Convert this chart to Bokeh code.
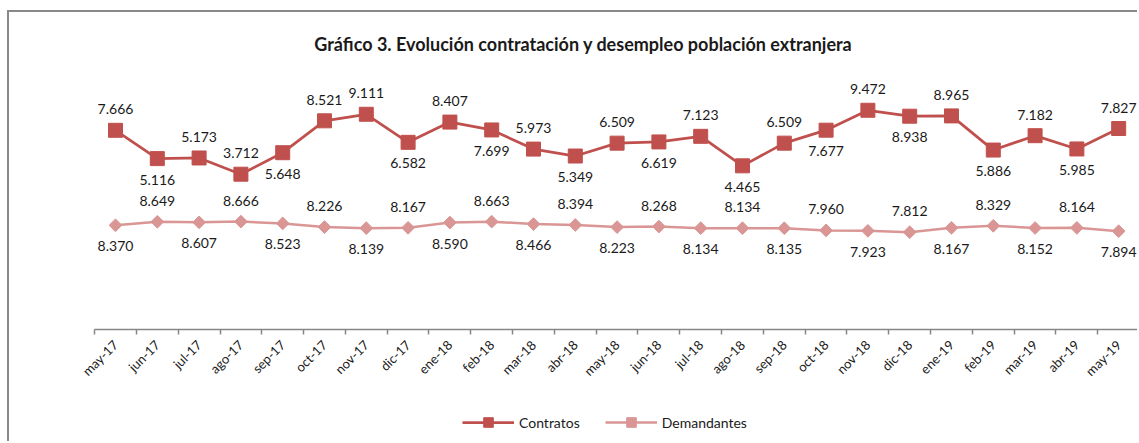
import math
from bokeh.plotting import figure
from bokeh.layouts import column
from bokeh.models import (Range1d, FixedTicker, Label, Legend, LegendItem,
                          ColumnDataSource)
from bokeh.embed import file_html
from bokeh.resources import INLINE
from bokeh.core.properties import value

# ---------------- data ----------------
months = ["may-17", "jun-17", "jul-17", "ago-17", "sep-17", "oct-17", "nov-17",
          "dic-17", "ene-18", "feb-18", "mar-18", "abr-18", "may-18", "jun-18",
          "jul-18", "ago-18", "sep-18", "oct-18", "nov-18", "dic-18", "ene-19",
          "feb-19", "mar-19", "abr-19", "may-19"]

contratos = [7666, 5116, 5173, 3712, 5648, 8521, 9111, 6582, 8407, 7699,
             5973, 5349, 6509, 6619, 7123, 4465, 6509, 7677, 9472, 8938,
             8965, 5886, 7182, 5985, 7827]

demandantes = [8370, 8649, 8607, 8666, 8523, 8226, 8139, 8167, 8590, 8663,
               8466, 8394, 8223, 8268, 8134, 8134, 8135, 7960, 7923, 7812,
               8167, 8329, 8152, 8164, 7894]

series_names = ["Contratos", "Demandantes"]

# label placement (style): "a" above, "b" below
contratos_side = ["a", "b", "a", "a", "b", "a", "a", "b", "a", "b", "a", "b",
                  "a", "b", "a", "b", "a", "b", "a", "b", "a", "b", "a", "b", "a"]
demandantes_side = ["b" if i % 2 == 0 else "a" for i in range(len(months))]

title_text = "Gráfico 3. Evolución contratación y desempleo población extranjera"

# ---------------- styling ----------------
FONT = "Lato"
C_RED = "#C0504D"
C_PINK = "#D99694"
AXIS_GREY = "#868686"
BORDER = "2px solid #898989"
TXT = "#1a1a1a"

W = 1130
H1, H2 = 385, 46
xs = list(range(len(months)))

def fmt(v):
    return f"{v / 1000:.3f}"

def offs(sides, d=21):
    return [-d if s == "a" else d for s in sides]

src_c = ColumnDataSource(dict(x=xs, y=contratos, t=[fmt(v) for v in contratos],
                              off=offs(contratos_side)))
src_d = ColumnDataSource(dict(x=xs, y=demandantes, t=[fmt(v) for v in demandantes],
                              off=offs(demandantes_side)))

# ---------------- main chart ----------------
p = figure(width=W, height=H1,
           x_range=Range1d(-2.536, 24.498),
           y_range=Range1d(-10280, 18280),
           output_backend="svg", toolbar_location=None,
           min_border_left=0, min_border_right=0, min_border_top=0,
           min_border_bottom=H1 - 317,
           background_fill_color="white", border_fill_color="white")
p.yaxis.visible = False
p.extra_y_ranges = {"dem": Range1d(0, 25460)}
p.outline_line_color = None
p.grid.visible = False
p.styles = {"border-left": BORDER, "border-top": BORDER,
            "margin-left": "7px", "margin-top": "10px"}

ax = p.xaxis[0]
ax.ticker = FixedTicker(ticks=xs, minor_ticks=[i - 0.5 for i in range(len(months) + 1)])
ax.major_label_overrides = {i: m for i, m in enumerate(months)}
ax.bounds = (-0.5, len(months) - 0.5)
ax.major_tick_in = 0
ax.major_tick_out = 0
ax.minor_tick_in = 0
ax.minor_tick_out = 5
ax.minor_tick_line_color = AXIS_GREY
ax.minor_tick_line_width = 1.5
ax.axis_line_color = AXIS_GREY
ax.axis_line_width = 1.5
ax.major_label_orientation = math.pi / 4
ax.major_label_standoff = 8
ax.major_label_text_font = FONT
ax.major_label_text_font_size = "13px"
ax.major_label_text_color = TXT

def draw_series(fig):
    a = fig.line("x", "y", source=src_c, line_color=C_RED, line_width=2.75)
    b = fig.scatter("x", "y", source=src_c, marker="square", size=14,
                    fill_color=C_RED, line_color=C_RED)
    c = fig.line("x", "y", source=src_d, line_color=C_PINK, line_width=2.5,
                 y_range_name="dem")
    d = fig.scatter("x", "y", source=src_d, marker="square", angle=math.pi / 4,
                    size=9, fill_color=C_PINK, line_color=C_PINK, y_range_name="dem")
    return a, b, c, d

draw_series(p)

p.text("x", "y", text="t", source=src_c, y_offset="off",
       text_align="center", text_baseline="middle",
       text_font=value(FONT), text_font_size="14px", text_color=TXT)
p.text("x", "y", text="t", source=src_d, y_offset="off", y_range_name="dem",
       text_align="center", text_baseline="middle",
       text_font=value(FONT), text_font_size="14px", text_color=TXT)

p.add_layout(Label(x=11.196, y=15486, text=title_text, text_font=FONT,
                   text_font_style="bold", text_font_size="18px",
                   text_align="center", text_baseline="middle", text_color=TXT))

# ---------------- legend strip (same series, out of view) ----------------
p2 = figure(width=W, height=H2, x_range=Range1d(-100, -99), y_range=Range1d(-100, -99),
            output_backend="svg", toolbar_location=None,
            min_border_left=0, min_border_right=0, min_border_top=0,
            min_border_bottom=0,
            background_fill_color="white", border_fill_color="white")
p2.extra_y_ranges = {"dem": Range1d(-100, -99)}
p2.xaxis.visible = False
p2.yaxis.visible = False
p2.grid.visible = False
p2.outline_line_color = None
p2.styles = {"border-left": BORDER, "margin-left": "7px"}

a, b, c, d = draw_series(p2)
legend = Legend(items=[LegendItem(label=series_names[0], renderers=[a, b]),
                       LegendItem(label=series_names[1], renderers=[c, d])],
                orientation="horizontal", location=(453, 7),
                glyph_width=52, glyph_height=24, label_standoff=5, spacing=25,
                padding=0, margin=0, border_line_color=None,
                background_fill_alpha=0,
                label_text_font=FONT, label_text_font_size="14px",
                label_text_color=TXT)
p2.add_layout(legend, "center")

layout = column(p, p2, spacing=0)
open("out.html", "w").write(file_html(layout, INLINE))
